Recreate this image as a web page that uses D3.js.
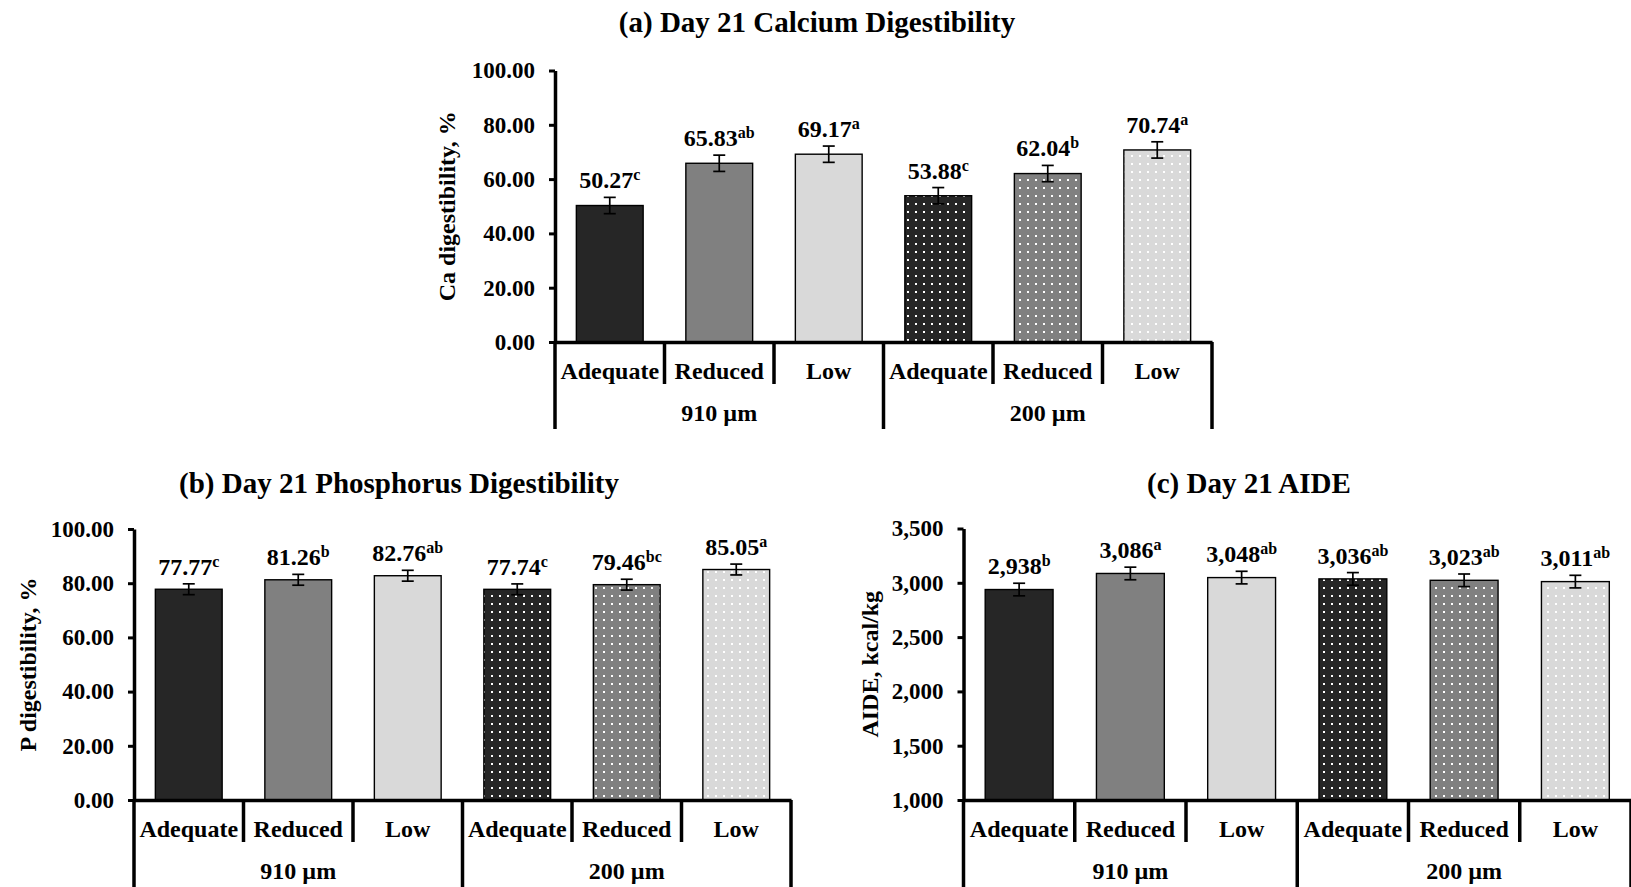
<!DOCTYPE html>
<html>
<head>
<meta charset="utf-8">
<script src="https://cdn.jsdelivr.net/npm/d3@7"></script>
<style>
  body { margin: 0; background: #fff; }
  svg { display: block; }
  svg text { font-family: "Liberation Serif", "Times New Roman", serif; font-weight: bold; fill: #000; }
</style>
</head>
<body>
<svg id="chart" width="1631" height="887"></svg>
<script>
// Data
const categories = ["Adequate", "Reduced", "Low", "Adequate", "Reduced", "Low"];
const sizes = ["910 µm", "200 µm"];
const fills = ["#262626", "#808080", "#d9d9d9"];

const caValues = [50.27, 65.83, 69.17, 53.88, 62.04, 70.74];
const caSem = [3.0, 3.0, 3.0, 3.0, 3.0, 3.0];
const caLetters = ["c", "ab", "a", "c", "b", "a"];
const caTicks = [0, 20, 40, 60, 80, 100];

const pValues = [77.77, 81.26, 82.76, 77.74, 79.46, 85.05];
const pSem = [2.0, 2.0, 2.0, 2.0, 2.0, 2.0];
const pLetters = ["c", "b", "ab", "c", "bc", "a"];
const pTicks = [0, 20, 40, 60, 80, 100];

const aideValues = [2938, 3086, 3048, 3036, 3023, 3011];
const aideSem = [58, 58, 58, 58, 58, 58];
const aideLetters = ["b", "a", "ab", "ab", "ab", "ab"];
const aideTicks = [1000, 1500, 2000, 2500, 3000, 3500];

const svg = d3.select("#chart");

// Dotted patterns for the 200 µm bars
const defs = svg.append("defs");
fills.forEach(function(c, i) {
    const p = defs.append("pattern")
        .attr("id", "dots" + i)
        .attr("patternUnits", "userSpaceOnUse")
        .attr("width", 8).attr("height", 8);
    p.append("rect").attr("width", 8).attr("height", 8).attr("fill", c);
    p.append("rect").attr("x", 3).attr("y", 3).attr("width", 2).attr("height", 2).attr("fill", "#fff");
});

function drawPanel(o) {
    const g = svg.append("g");

    const slot = d3.scaleBand().domain(d3.range(categories.length)).range([o.x0, o.x1]);
    const band = slot.copy().paddingInner(0.39).paddingOuter(0.195);
    const y = d3.scaleLinear().domain(o.domain).range([o.yb, o.yt]);

    // Title
    g.append("text")
        .attr("x", o.titleX).attr("y", o.titleY)
        .attr("text-anchor", "middle")
        .style("font-size", "29px")
        .text(o.title);

    // Y axis title
    g.append("text")
        .attr("transform", "translate(" + o.labelX + "," + ((o.yt + o.yb) / 2) + ") rotate(-90)")
        .attr("text-anchor", "middle")
        .attr("dy", "0.35em")
        .style("font-size", "24px")
        .text(o.yLabel);

    // Bars
    g.selectAll(".bar")
        .data(o.values)
        .enter().append("rect")
        .attr("class", "bar")
        .attr("x", (d, i) => band(i))
        .attr("width", band.bandwidth())
        .attr("y", d => y(d))
        .attr("height", d => y(o.domain[0]) - y(d))
        .attr("fill", (d, i) => i < 3 ? fills[i % 3] : "url(#dots" + (i % 3) + ")")
        .attr("stroke", "#000")
        .attr("stroke-width", 1.4);

    // Error bars
    const cx = i => band(i) + band.bandwidth() / 2;
    const err = g.selectAll(".err")
        .data(o.values)
        .enter().append("g")
        .attr("class", "err")
        .attr("stroke", "#000")
        .attr("stroke-width", 1.7);
    err.append("line")
        .attr("x1", (d, i) => cx(i)).attr("x2", (d, i) => cx(i))
        .attr("y1", (d, i) => y(d - o.sem[i])).attr("y2", (d, i) => y(d + o.sem[i]));
    err.append("line")
        .attr("x1", (d, i) => cx(i) - 6).attr("x2", (d, i) => cx(i) + 6)
        .attr("y1", (d, i) => y(d + o.sem[i])).attr("y2", (d, i) => y(d + o.sem[i]));
    err.append("line")
        .attr("x1", (d, i) => cx(i) - 6).attr("x2", (d, i) => cx(i) + 6)
        .attr("y1", (d, i) => y(d - o.sem[i])).attr("y2", (d, i) => y(d - o.sem[i]));

    // Value labels with superscript letters
    const lab = g.selectAll(".val")
        .data(o.values)
        .enter().append("text")
        .attr("class", "val")
        .attr("x", (d, i) => cx(i))
        .attr("y", (d, i) => y(d + o.sem[i]) - 9)
        .attr("text-anchor", "middle")
        .style("font-size", "24px");
    lab.append("tspan").text(d => o.fmt(d));
    lab.append("tspan")
        .attr("dy", -8)
        .style("font-size", "16px")
        .text((d, i) => o.letters[i]);

    // Y axis
    const yAxis = g.append("g")
        .attr("transform", "translate(" + o.x0 + ",0)")
        .call(d3.axisLeft(y).tickValues(o.ticks).tickFormat(o.fmt).tickSize(6).tickSizeOuter(0).tickPadding(14));
    yAxis.attr("font-family", null);
    yAxis.select(".domain").attr("stroke-width", 3.5);
    yAxis.selectAll(".tick line").attr("stroke-width", 3);
    yAxis.selectAll(".tick text").style("font-size", "23px");

    // X axis with category labels
    const xAxis = g.append("g")
        .attr("transform", "translate(0," + o.yb + ")")
        .call(d3.axisBottom(slot).tickSize(0).tickSizeOuter(0).tickPadding(20).tickFormat(i => categories[i]));
    xAxis.attr("font-family", null);
    xAxis.select(".domain").attr("stroke-width", 3.5);
    xAxis.selectAll(".tick text").style("font-size", "24px");

    // Dividers below the axis
    const edges = d3.range(categories.length + 1);
    g.selectAll(".div")
        .data(edges)
        .enter().append("line")
        .attr("x1", i => o.x0 + i * slot.step()).attr("x2", i => o.x0 + i * slot.step())
        .attr("y1", o.yb).attr("y2", i => o.yb + (i % 3 === 0 ? 87 : 42))
        .attr("stroke", "#000")
        .attr("stroke-width", 3.5);

    // Group labels
    g.selectAll(".grp")
        .data(sizes)
        .enter().append("text")
        .attr("x", (d, k) => o.x0 + (k * 3 + 1.5) * slot.step())
        .attr("y", o.yb + 79)
        .attr("text-anchor", "middle")
        .style("font-size", "24px")
        .text(d => d);
}

const f2 = d3.format(".2f");
const fc = d3.format(",");

drawPanel({
    title: "(a) Day 21 Calcium Digestibility", titleX: 817, titleY: 31.5,
    yLabel: "Ca digestibility, %", labelX: 447,
    x0: 555, x1: 1212, yt: 70.5, yb: 342,
    domain: [0, 100], ticks: caTicks, fmt: f2,
    values: caValues, sem: caSem, letters: caLetters
});

drawPanel({
    title: "(b) Day 21 Phosphorus Digestibility", titleX: 399, titleY: 493,
    yLabel: "P digestibility, %", labelX: 28,
    x0: 134, x1: 791, yt: 529, yb: 800,
    domain: [0, 100], ticks: pTicks, fmt: f2,
    values: pValues, sem: pSem, letters: pLetters
});

drawPanel({
    title: "(c) Day 21 AIDE", titleX: 1249, titleY: 493,
    yLabel: "AIDE, kcal/kg", labelX: 870,
    x0: 963.5, x1: 1631, yt: 528.5, yb: 800,
    domain: [1000, 3500], ticks: aideTicks, fmt: fc,
    values: aideValues, sem: aideSem, letters: aideLetters
});
</script>
</body>
</html>
